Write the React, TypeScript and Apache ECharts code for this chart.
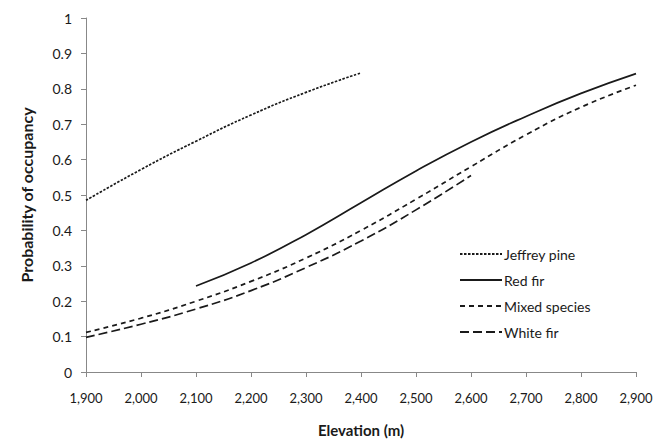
import React, { useEffect, useRef } from "react";
import * as echarts from "echarts";

const elevations = [1900, 2000, 2100, 2200, 2300, 2400, 2500, 2600, 2700, 2800, 2900];
const jeffreyPine = [0.485, 0.572, 0.652, 0.726, 0.79, 0.845];
const redFirElev = [2100, 2200, 2300, 2400, 2500, 2600, 2700, 2800, 2900];
const redFir = [0.243, 0.308, 0.388, 0.478, 0.568, 0.65, 0.722, 0.787, 0.843];
const mixedSpecies = [0.112, 0.152, 0.2, 0.256, 0.322, 0.4, 0.488, 0.58, 0.67, 0.748, 0.81];
const whiteFir = [0.098, 0.135, 0.178, 0.23, 0.295, 0.37, 0.458, 0.555];

const FONT = "Lato, 'Open Sans', sans-serif";
const INK = "#1a1a1a";

function pairs(xs: number[], ys: number[]) {
  return ys.map((v, i) => [xs[i], v]);
}

export default function App() {
  const ref = useRef<HTMLDivElement>(null);
  useEffect(() => {
    if (!ref.current) return;
    const chart = echarts.init(ref.current, undefined, { renderer: "svg" });
    const lineSeries = (name: string, data: number[][], type: any) => ({
      name,
      type: "line",
      data,
      smooth: true,
      showSymbol: false,
      symbol: "none",
      lineStyle: { color: INK, width: 1.7, type },
      itemStyle: { color: INK },
    });
    chart.setOption({
      animation: false,
      backgroundColor: "#fff",
      grid: { left: 86, right: 35, top: 18, bottom: 75 },
      legend: {
        orient: "vertical",
        left: 454,
        top: 242,
        itemGap: 12,
        itemWidth: 42,
        itemHeight: 14,
        itemStyle: { opacity: 0 },
        textStyle: { fontFamily: FONT, fontSize: 14, color: INK, padding: [0, 0, 0, -3] },
        data: ["Jeffrey pine", "Red fir", "Mixed species", "White fir"],
      },
      xAxis: {
        type: "value",
        min: 1900,
        max: 2900,
        interval: 100,
        name: "Elevation (m)",
        nameLocation: "middle",
        nameGap: 50,
        nameTextStyle: { fontFamily: FONT, fontSize: 15, fontWeight: "bold", color: INK },
        axisLine: { lineStyle: { color: "#888" } },
        axisTick: { show: true, length: 5, lineStyle: { color: "#888" } },
        splitLine: { show: false },
        axisLabel: {
          margin: 19,
          fontFamily: FONT,
          fontSize: 13,
          color: INK,
          formatter: (v: number) => v.toLocaleString("en-US"),
        },
      },
      yAxis: {
        type: "value",
        min: 0,
        max: 1,
        interval: 0.1,
        name: "Probability of occupancy",
        nameLocation: "middle",
        nameGap: 52,
        nameTextStyle: { fontFamily: FONT, fontSize: 16, fontWeight: "bold", color: INK },
        axisLine: { show: true, lineStyle: { color: "#888" } },
        axisTick: { show: true, length: 5, lineStyle: { color: "#888" } },
        splitLine: { show: false },
        axisLabel: {
          margin: 14,
          fontFamily: FONT,
          fontSize: 14,
          color: INK,
          formatter: (v: number) => String(Math.round(v * 10) / 10),
        },
      },
      series: [
        lineSeries("Jeffrey pine", pairs(elevations, jeffreyPine), [2.5, 1.5]),
        lineSeries("Red fir", pairs(redFirElev, redFir), "solid"),
        lineSeries("Mixed species", pairs(elevations, mixedSpecies), [5, 4]),
        lineSeries("White fir", pairs(elevations, whiteFir), [9, 4]),
      ],
    });
    return () => chart.dispose();
  }, []);
  return <div ref={ref} style={{ width: 671, height: 447, position: "absolute", left: 0, top: 0 }} />;
}
